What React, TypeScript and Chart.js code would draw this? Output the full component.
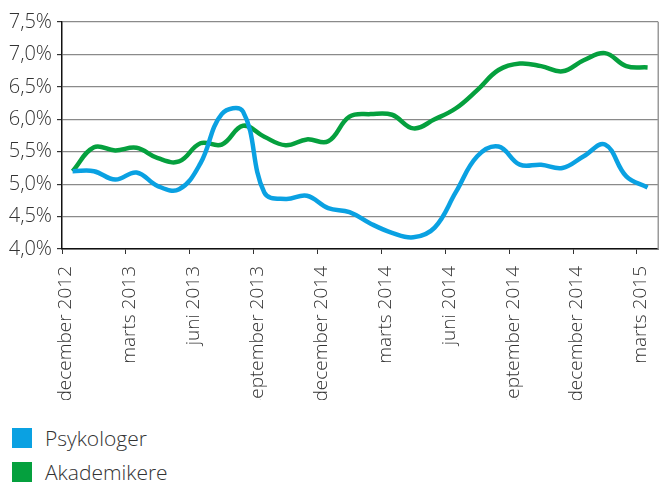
import React, { useEffect, useRef } from "react";
import { Chart, registerables } from "chart.js";

Chart.register(...registerables);

// Monthly values, december 2012 .. marts 2015 (28 months)
const psykologer = [
  5.2, 5.2, 5.07, 5.18, 4.97, 4.92, 5.32, 6.08, 6.12, 4.87, 4.77, 4.82, 4.63, 4.57,
  4.39, 4.25, 4.18, 4.33, 4.88, 5.43, 5.58, 5.3, 5.3, 5.25, 5.43, 5.61, 5.12, 4.95,
];
const akademikere = [
  5.2, 5.57, 5.52, 5.56, 5.4, 5.35, 5.63, 5.61, 5.9, 5.73, 5.6, 5.69, 5.66, 6.04,
  6.08, 6.07, 5.86, 6.0, 6.17, 6.45, 6.76, 6.86, 6.82, 6.74, 6.91, 7.02, 6.82, 6.8,
];
const tickLabels = [
  "december 2012",
  "marts 2013",
  "juni 2013",
  "september 2013",
  "december 2014",
  "marts 2014",
  "juni 2014",
  "september 2014",
  "december 2014",
  "marts 2015",
];
const seriesNames = ["Psykologer", "Akademikere"];
const seriesColors = ["#0aa1e2", "#05a03e"];
const yMin = 4.0;
const yMax = 7.5;
const yStep = 0.5;
const monthsPerTick = 3;

const FONT = "'Open Sans', 'Noto Sans', sans-serif";

export default function App() {
  const ref = useRef<HTMLCanvasElement | null>(null);

  useEffect(() => {
    if (!ref.current) return;
    const borderPlugin = {
      id: "rightBorder",
      afterDraw(chart: any) {
        const { ctx, chartArea } = chart;
        ctx.save();
        ctx.strokeStyle = "#9a9a9a";
        ctx.lineWidth = 1.5;
        ctx.beginPath();
        ctx.moveTo(chartArea.right, chartArea.top);
        ctx.lineTo(chartArea.right, chartArea.bottom);
        ctx.stroke();
        ctx.restore();
      },
    };
    const chart = new Chart(ref.current, {
      type: "line",
      data: {
        datasets: [psykologer, akademikere].map((vals, k) => ({
          label: seriesNames[k],
          data: vals.map((v, i) => ({ x: i, y: v })),
          borderColor: seriesColors[k],
          backgroundColor: seriesColors[k],
          borderWidth: 4.5,
          pointRadius: 0,
          tension: 0.4,
          fill: false,
        })),
      },
      options: {
        animation: false,
        responsive: false,
        layout: { padding: { left: 0, right: 7, top: 22, bottom: 0 } },
        plugins: {
          legend: { display: false },
          tooltip: { enabled: false },
        },
        scales: {
          x: {
            type: "linear",
            min: -0.5,
            max: akademikere.length - 0.5,
            afterBuildTicks: (scale: any) => {
              scale.ticks = tickLabels.map((_, k) => ({ value: k * monthsPerTick - 0.5 }));
            },
            afterFit: (scale: any) => {
              scale.height = 151;
            },
            ticks: {
              autoSkip: false,
              minRotation: 90,
              maxRotation: 90,
              padding: 12,
              labelOffset: 4,
              color: "#333333",
              font: { family: FONT, size: 19, weight: 300 },
              callback: (value: any) => {
                const k = Math.round((Number(value) + 0.5) / monthsPerTick);
                return tickLabels[k] ?? "";
              },
            },
            grid: {
              drawOnChartArea: false,
              drawTicks: true,
              tickLength: 5,
              color: "#333333",
              lineWidth: 1,
            },
            border: { color: "#111111", width: 1.5 },
          },
          y: {
            min: yMin,
            max: yMax,
            afterFit: (scale: any) => {
              scale.width = 62;
            },
            ticks: {
              stepSize: yStep,
              padding: 5,
              color: "#333333",
              font: { family: FONT, size: 20, weight: 300 },
              callback: (value: any) => Number(value).toFixed(1).replace(".", ",") + "%",
            },
            grid: {
              color: "#8a8a8a",
              lineWidth: 1.2,
              tickLength: 5,
              tickColor: "#333333",
            },
            border: { color: "#111111", width: 1.5 },
          },
        },
      },
      plugins: [borderPlugin],
    });
    return () => chart.destroy();
  }, []);

  return (
    <div style={{ position: "absolute", left: 0, top: 0, width: 672, height: 485, background: "#fff" }}>
      <canvas ref={ref} width={672} height={400} style={{ display: "block" }} />
      {seriesNames.map((name, k) => (
        <div
          key={name}
          style={{
            position: "absolute",
            left: 12,
            top: 428 + k * 34,
            height: 20,
            display: "flex",
            alignItems: "center",
            fontFamily: FONT,
            fontWeight: 300,
            fontSize: 21,
            color: "#333333",
          }}
        >
          <span style={{ width: 20, height: 20, background: seriesColors[k], display: "inline-block", marginRight: 13 }} />
          <span>{name}</span>
        </div>
      ))}
    </div>
  );
}
